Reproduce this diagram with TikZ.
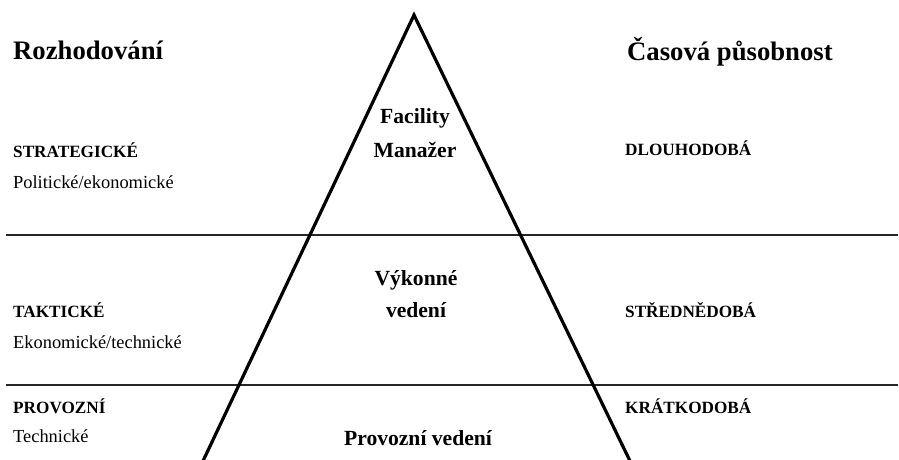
\documentclass[tikz,border=0pt]{standalone}
\usepackage{fontspec}
\setmainfont{Liberation Serif}
\newcommand{\fsz}[1]{\fontsize{#1}{#1}\selectfont}
\begin{document}
\begin{tikzpicture}[x=1pt,y=-1pt,
  sepline/.style={line width=1.5pt,black!85},
  pyr/.style={line width=3.2pt,line join=miter,black},
  head/.style={anchor=base west,inner sep=0pt,font=\fsz{26.7}\bfseries},
  lvl/.style={anchor=base west,inner sep=0pt,font=\fsz{17.2}\bfseries},
  sub/.style={anchor=base west,inner sep=0pt,font=\fsz{18.4}},
  mid/.style={anchor=base,inner sep=0pt,font=\fsz{21.6}\bfseries}]
\useasboundingbox (0,0) rectangle (899,459);
% separator lines
\coordinate (l1a) at (6,235); \coordinate (l1b) at (898,235);
\coordinate (l2a) at (6,385); \coordinate (l2b) at (898,385);
\draw[sepline] (l1a) -- (l1b);
\draw[sepline] (l2a) -- (l2b);
% pyramid
\coordinate (apex) at (414,15);
\coordinate (bl) at (203,461);
\coordinate (br) at (630,461);
\begin{scope}
\clip (0,0) rectangle (899,459);
\draw[pyr] (bl) -- (apex) -- (br);
\end{scope}
% headings
\node[head] (hl) at (13,59) {Rozhodování};
\node[head] (hr) at (627,60) {Časová působnost};
% left labels
\node[lvl] (s1) at (13,157) {STRATEGICKÉ};
\node[sub] (s2) at (13,188) {Politické/ekonomické};
\node[lvl] (t1) at (13,317) {TAKTICKÉ};
\node[sub] (t2) at (13,348) {Ekonomické/technické};
\node[lvl] (p1) at (13,413) {PROVOZNÍ};
\node[sub] (p2) at (13,442) {Technické};
% right labels
\node[lvl] (r1) at (625,155) {DLOUHODOBÁ};
\node[lvl] (r2) at (625,317) {STŘEDNĚDOBÁ};
\node[lvl] (r3) at (625,413) {KRÁTKODOBÁ};
% centre labels
\node[mid] (fm1) at (415,123) {Facility};
\node[mid] (fm2) at (415,157) {Manažer};
\node[mid] (vv1) at (416,285) {Výkonné};
\node[mid] (vv2) at (416,317) {vedení};
\node[mid] (pv) at (418,445) {Provozní vedení};
\end{tikzpicture}
\end{document}
